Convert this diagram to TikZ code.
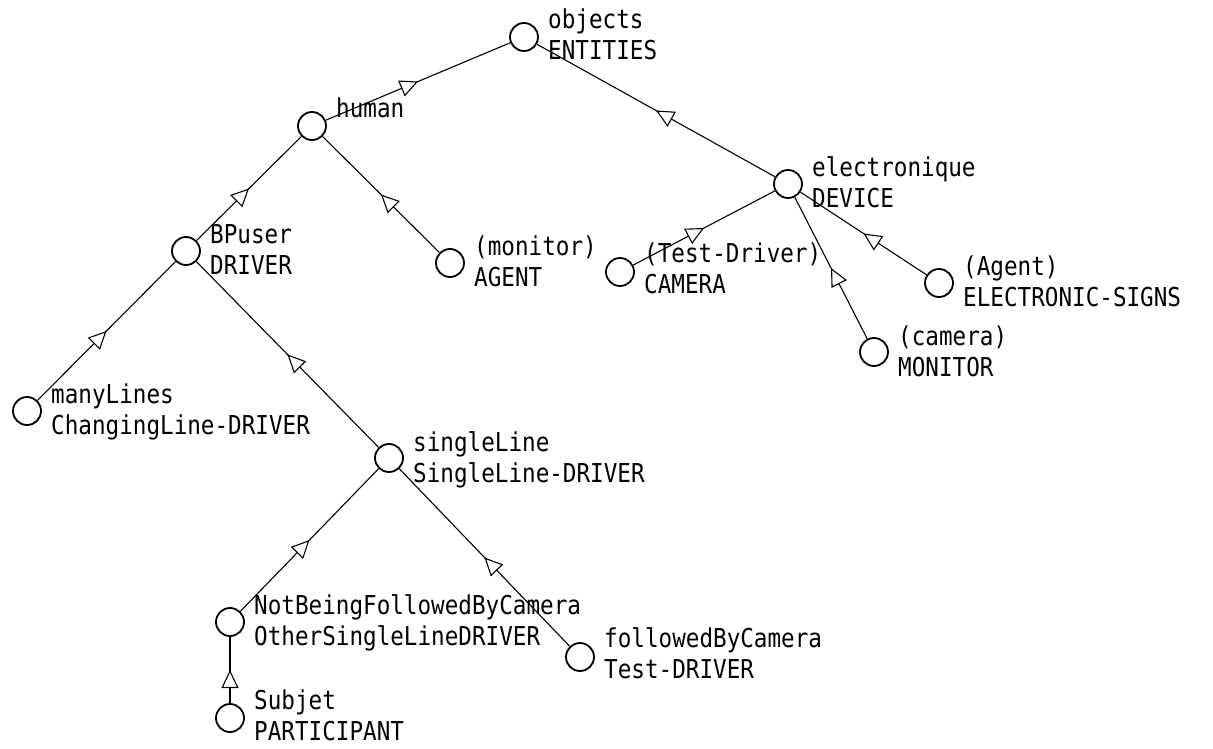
\documentclass[tikz,border=0pt]{standalone}
\usepackage{fontspec}
\newfontfamily\lblfont[FakeStretch=0.87]{DejaVu Sans Mono}
\usetikzlibrary{arrows.meta,decorations.markings}

\begin{document}
\begin{tikzpicture}[x=1pt,y=-1pt,
  klass/.style={draw,circle,line width=1.8pt,minimum size=28pt,inner sep=0pt},
  lbl/.style={anchor=base west,align=left,inner sep=0pt,font=\lblfont\fontsize{26}{31}\selectfont},
  isa/.style={line width=1.1pt,postaction={decorate},
    decoration={markings,mark=at position 0.5 with {\arrow{Triangle[fill=white,length=18pt,width=17pt]}}}}]
\useasboundingbox (0,0) rectangle (1213,749);
% classes
\node[klass] (objects) at (524,37) {};
\node[klass] (human) at (312,126) {};
\node[klass] (electronique) at (788,184) {};
\node[klass] (bpuser) at (186,251) {};
\node[klass] (monitor) at (450,263) {};
\node[klass] (testdriver) at (620,272) {};
\node[klass] (agent) at (939,283) {};
\node[klass] (camera) at (874,352) {};
\node[klass] (manylines) at (27,411) {};
\node[klass] (singleline) at (389,458) {};
\node[klass] (notfollowed) at (230,622) {};
\node[klass] (followed) at (580,657) {};
\node[klass] (subjet) at (230,718) {};
% labels (base = last line)
\node[lbl] (objects-t) at (548,60) {objects\\ENTITIES};
\node[lbl] (human-t) at (336,118) {human};
\node[lbl] (electronique-t) at (812,207) {electronique\\DEVICE};
\node[lbl] (bpuser-t) at (210,274) {BPuser\\DRIVER};
\node[lbl] (monitor-t) at (474,286) {(monitor)\\AGENT};
\node[lbl] (testdriver-t) at (644,293) {(Test-Driver)\\CAMERA};
\node[lbl] (agent-t) at (963,306) {(Agent)\\ELECTRONIC-SIGNS};
\node[lbl] (camera-t) at (898,376) {(camera)\\MONITOR};
\node[lbl] (manylines-t) at (51,434) {manyLines\\ChangingLine-DRIVER};
\node[lbl] (singleline-t) at (413,482) {singleLine\\SingleLine-DRIVER};
\node[lbl] (notfollowed-t) at (254,645) {NotBeingFollowedByCamera\\OtherSingleLineDRIVER};
\node[lbl] (followed-t) at (604,678) {followedByCamera\\Test-DRIVER};
\node[lbl] (subjet-t) at (254,740) {Subjet\\PARTICIPANT};
% inheritance
\foreach \c/\p in {human/objects,electronique/objects,bpuser/human,monitor/human,
    testdriver/electronique,agent/electronique,camera/electronique,manylines/bpuser,
    singleline/bpuser,notfollowed/singleline,followed/singleline,subjet/notfollowed}
  \draw[isa] (\c) -- (\p);
\end{tikzpicture}
\end{document}
